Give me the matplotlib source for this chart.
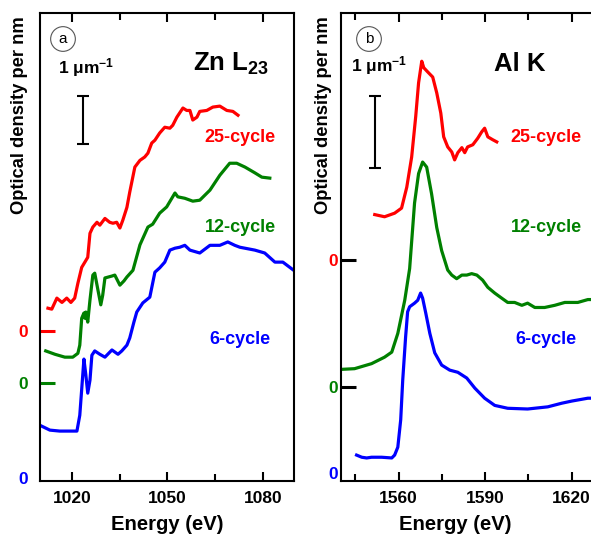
import matplotlib
matplotlib.use("Agg")
import matplotlib.pyplot as plt
import matplotlib.transforms as mtransforms

plt.rcParams['font.family'] = ['Liberation Sans', 'DejaVu Sans']

# ---------------- data (optical density per nm, in 1/um, relative to each zero) ----
# Zn L23 edge
zn_blue_e = [1010.0, 1013.1, 1016.2, 1019.4, 1021.6, 1022.5, 1023.8, 1024.4, 1025.0, 1025.7,
             1026.3, 1027.2, 1028.8, 1030.4, 1032.6, 1034.5, 1035.7, 1037.3, 1038.2, 1039.5,
             1040.4, 1042.3, 1044.5, 1046.1, 1047.6, 1049.2, 1050.8, 1052.4, 1053.9, 1055.5,
             1057.1, 1060.2, 1063.4, 1066.5, 1069.0, 1071.2, 1072.8, 1077.5, 1080.6, 1083.8,
             1086.3, 1089.7]
zn_blue_od = [1.10, 1.00, 0.98, 0.98, 0.98, 1.31, 2.48, 2.15, 1.77, 2.04,
              2.56, 2.65, 2.58, 2.52, 2.67, 2.58, 2.65, 2.77, 2.92, 3.25,
              3.46, 3.65, 3.77, 4.29, 4.38, 4.50, 4.75, 4.79, 4.81, 4.85,
              4.75, 4.69, 4.85, 4.85, 4.92, 4.85, 4.81, 4.75, 4.69, 4.50,
              4.50, 4.33]

zn_green_e = [1011.8, 1014.7, 1017.8, 1020.3, 1021.9, 1022.5, 1023.1, 1023.8, 1024.1, 1024.4,
              1025.0, 1025.7, 1026.6, 1027.2, 1028.2, 1029.1, 1029.7, 1030.4, 1032.6, 1033.5,
              1035.1, 1036.4, 1037.3, 1039.2, 1041.4, 1043.9, 1045.4, 1047.6, 1049.8, 1052.4,
              1053.3, 1055.5, 1058.0, 1060.2, 1063.4, 1066.5, 1069.6, 1071.8, 1074.4, 1077.5,
              1079.7, 1082.2]
zn_green_od = [0.67, 0.60, 0.54, 0.54, 0.62, 0.79, 1.35, 1.46, 1.35, 1.48,
               1.27, 1.73, 2.25, 2.29, 1.94, 1.63, 1.83, 2.19, 2.23, 2.25,
               2.04, 2.13, 2.21, 2.35, 2.88, 3.25, 3.31, 3.54, 3.67, 3.96,
               3.88, 3.85, 3.79, 3.81, 4.02, 4.33, 4.58, 4.58, 4.50, 4.38,
               4.29, 4.27]

zn_red_e = [1012.5, 1013.7, 1015.3, 1016.9, 1018.4, 1019.7, 1020.9, 1021.9, 1023.1, 1024.1,
            1025.0, 1025.7, 1026.6, 1027.9, 1028.8, 1030.4, 1031.9, 1032.9, 1034.1, 1035.1,
            1036.0, 1037.3, 1038.2, 1039.8, 1041.4, 1042.9, 1043.9, 1045.1, 1046.1, 1047.6,
            1049.2, 1050.8, 1051.7, 1053.0, 1054.9, 1056.1, 1057.1, 1058.0, 1059.3, 1060.2,
            1062.4, 1064.3, 1066.5, 1068.7, 1070.6, 1072.2]
zn_red_od = [0.48, 0.46, 0.69, 0.60, 0.69, 0.60, 0.69, 1.00, 1.33, 1.44,
             1.54, 2.04, 2.17, 2.27, 2.21, 2.35, 2.27, 2.25, 2.27, 2.15,
             2.31, 2.58, 2.90, 3.42, 3.56, 3.63, 3.71, 3.92, 3.98, 4.13,
             4.25, 4.23, 4.29, 4.46, 4.65, 4.60, 4.60, 4.40, 4.46, 4.58,
             4.60, 4.67, 4.69, 4.60, 4.58, 4.50]

# Al K edge
al_blue_e = [1545.4, 1547.2, 1548.9, 1550.6, 1554.1, 1557.6, 1558.6, 1559.7, 1560.7, 1561.4,
             1562.4, 1563.1, 1563.8, 1565.5, 1566.6, 1567.6, 1568.3, 1569.4, 1570.8, 1572.5,
             1574.9, 1577.7, 1580.5, 1583.6, 1586.4, 1589.8, 1593.3, 1597.8, 1604.7, 1611.7,
             1616.5, 1620.0, 1625.6, 1630.0]
al_blue_od = [0.25, 0.22, 0.21, 0.22, 0.22, 0.21, 0.25, 0.36, 0.74, 1.29,
              1.89, 2.24, 2.31, 2.36, 2.40, 2.50, 2.43, 2.22, 1.94, 1.67,
              1.50, 1.43, 1.40, 1.32, 1.18, 1.04, 0.94, 0.90, 0.89, 0.92,
              0.97, 1.00, 1.04, 1.04]

al_green_e = [1539.9, 1544.7, 1550.6, 1555.1, 1557.6, 1559.7, 1562.1, 1563.8, 1565.5, 1566.9,
              1568.3, 1569.7, 1571.4, 1573.2, 1574.9, 1577.0, 1578.4, 1580.1, 1581.9, 1583.6,
              1585.3, 1587.1, 1589.1, 1590.9, 1593.3, 1595.7, 1597.8, 1600.2, 1602.7, 1604.7,
              1607.2, 1610.6, 1614.1, 1617.6, 1622.1, 1625.6, 1630.0]
al_green_od = [0.25, 0.26, 0.33, 0.42, 0.49, 0.75, 1.21, 1.65, 2.56, 2.97,
               3.13, 3.06, 2.69, 2.22, 1.90, 1.63, 1.56, 1.51, 1.56, 1.56,
               1.58, 1.56, 1.49, 1.39, 1.31, 1.24, 1.18, 1.18, 1.14, 1.17,
               1.11, 1.11, 1.14, 1.18, 1.18, 1.22, 1.22]

al_red_e = [1551.7, 1555.1, 1558.6, 1561.0, 1562.8, 1564.5, 1565.9, 1566.9, 1568.0, 1568.7,
            1570.1, 1571.8, 1573.2, 1574.6, 1575.6, 1577.0, 1578.4, 1579.4, 1580.5, 1581.9,
            1582.9, 1583.9, 1585.7, 1587.4, 1588.8, 1589.8, 1590.9, 1592.6, 1594.0]
al_red_od = [0.63, 0.60, 0.65, 0.72, 1.01, 1.43, 1.99, 2.46, 2.76, 2.67,
             2.61, 2.54, 2.32, 2.04, 1.71, 1.57, 1.50, 1.39, 1.49, 1.56,
             1.49, 1.57, 1.60, 1.69, 1.78, 1.83, 1.71, 1.67, 1.64]

labels = ['25-cycle', '12-cycle', '6-cycle']
colors = ['red', 'green', 'blue']
zn_offsets = [3.06, 1.98, 0.0]
al_offsets = [2.96, 1.19, 0.0]

# ---------------- figure -------------------------------------------
W, H = 591, 541
fig = plt.figure(figsize=(W / 100, H / 100), dpi=100)


def px_axes(l, t, r, b):
    return fig.add_axes([l / W, 1 - b / H, (r - l) / W, (b - t) / H])


def fig_text(x, y, s, **kw):
    fig.text(x / W, 1 - y / H, s, ha='center', va='center', **kw)


ax_a = px_axes(40, 13, 294, 481)
ax_b = px_axes(341, 13, 600, 481)
ax_b.spines['right'].set_visible(False)

panels = [
    (ax_a, [(zn_red_e, zn_red_od), (zn_green_e, zn_green_od), (zn_blue_e, zn_blue_od)],
     zn_offsets, (1010, 1089.8), (-0.06, 9.69), [1020, 1050, 1080], [1035, 1065], 8.5),
    (ax_b, [(al_red_e, al_red_od), (al_green_e, al_green_od), (al_blue_e, al_blue_od)],
     al_offsets, (1540, 1629.8), (-0.11, 6.39), [1560, 1590, 1620], [1545, 1575, 1605], 2.0),
]

for ax, curves, offsets, xlim, ylim, major, minor, ypad in panels:
    for (e, od), off, c in zip(curves, offsets, colors):
        ax.plot(e, [v + off for v in od], color=c, lw=2.3, solid_joinstyle='round')
    ax.set_xlim(*xlim)
    ax.set_ylim(*ylim)
    ax.set_xticks(major)
    ax.set_xticks(minor, minor=True)
    ax.set_xticklabels([str(m) for m in major], fontweight='bold', fontsize=12.5)
    ax.tick_params(axis='x', which='both', direction='in', top=True, bottom=True, width=1.5)
    ax.tick_params(axis='x', which='major', length=6.5, pad=7)
    ax.tick_params(axis='x', which='minor', length=5)
    ax.set_yticks(offsets)
    ax.set_yticklabels(['0'] * len(offsets), fontweight='bold', fontsize=12.5)
    ax.tick_params(axis='y', direction='in', length=10.5, width=2.2, pad=ypad)
    for sp in ax.spines.values():
        sp.set_linewidth(1.5)
    for tick, c in zip(ax.yaxis.get_major_ticks(), colors):
        tick.label1.set_color(c)
        tick.tick1line.set_markeredgecolor(c if ax is ax_a else 'black')
    ax.yaxis.get_major_ticks()[-1].tick1line.set_visible(False)

# scale bars (1 um^-1)
for ax, xf, y0 in [(ax_a, 0.169, 6.96), (ax_b, 0.131, 4.24)]:
    trans = mtransforms.blended_transform_factory(ax.transAxes, ax.transData)
    ax.vlines(xf, y0, y0 + 1, color='black', lw=1.5, transform=trans)
    ax.hlines([y0, y0 + 1], xf - 0.024, xf + 0.024, color='black', lw=1.5, transform=trans)

# texts
for x in (20, 324):
    fig_text(x, 115, 'Optical density per nm', rotation=90, fontsize=13.2, fontweight='bold')
for x in (167, 455):
    fig_text(x, 524, 'Energy (eV)', fontsize=14.6, fontweight='bold')
fig_text(86, 68, r'1 $\mathregular{\mu m^{-1}}$', fontsize=12.5, fontweight='bold')
fig_text(379, 66, r'1 $\mathregular{\mu m^{-1}}$', fontsize=12.5, fontweight='bold')
fig_text(231, 64, r'Zn L$_\mathregular{23}$', fontsize=18.5, fontweight='bold')
fig_text(520, 64, 'Al K', fontsize=18.5, fontweight='bold')
for x, s in [(63, 'a'), (369, 'b')]:
    fig_text(x, 39, s, fontsize=11,
             bbox=dict(boxstyle='circle,pad=0.35', fc='white', ec='#555555', lw=0.8))

for lab, c, ya in zip(labels, colors, (137, 228, 340)):
    fig_text(240, ya, lab, color=c, fontsize=13, fontweight='bold')
for lab, c, ya in zip(labels, colors, (137, 228, 340)):
    fig_text(546, ya, lab, color=c, fontsize=13, fontweight='bold')

fig.savefig('out.png', dpi=100)
